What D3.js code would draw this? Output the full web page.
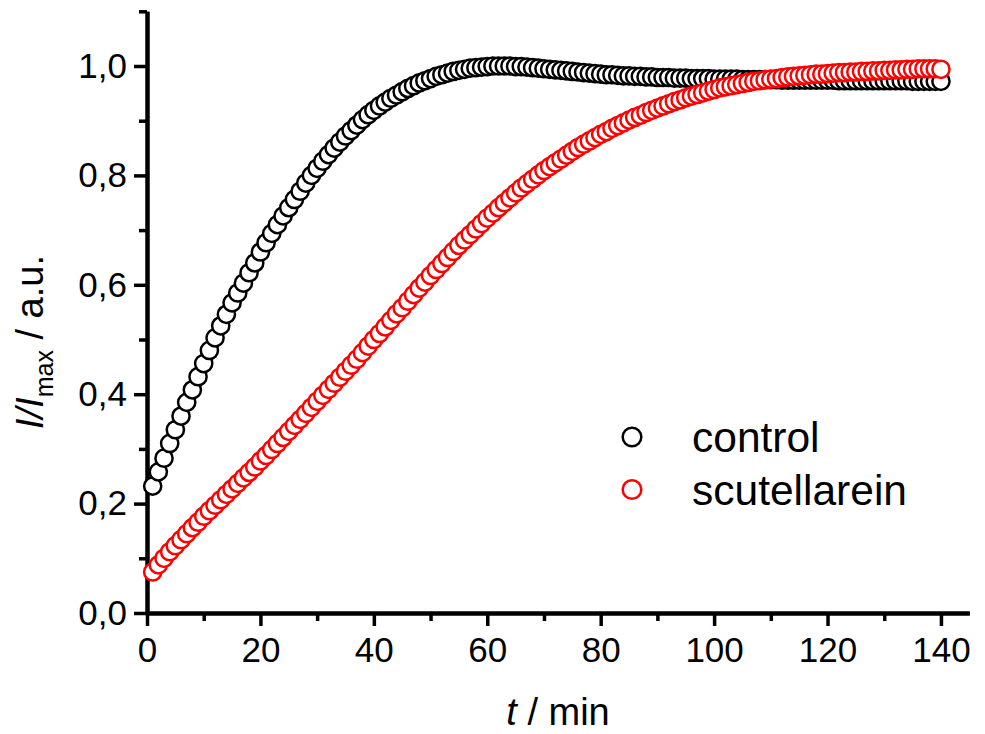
<!DOCTYPE html>
<html>
<head>
<meta charset="utf-8">
<script src="https://cdn.jsdelivr.net/npm/d3@7"></script>
<style>
  html, body { margin: 0; padding: 0; background: #fff; }
  svg { display: block; font-family: "Liberation Sans", Arial, sans-serif; }
</style>
</head>
<body>
<svg id="chart" width="985" height="734"></svg>
<script>
// ---- data ----
const times = [1,2,3,4,5,6,7,8,9,10,11,12,13,14,15,16,17,18,19,20,
  21,22,23,24,25,26,27,28,29,30,31,32,33,34,35,36,37,38,39,40,
  41,42,43,44,45,46,47,48,49,50,51,52,53,54,55,56,57,58,59,60,
  61,62,63,64,65,66,67,68,69,70,71,72,73,74,75,76,77,78,79,80,
  81,82,83,84,85,86,87,88,89,90,91,92,93,94,95,96,97,98,99,100,
  101,102,103,104,105,106,107,108,109,110,111,112,113,114,115,116,117,118,119,120,
  121,122,123,124,125,126,127,128,129,130,131,132,133,134,135,136,137,138,139,140];

const controlValues = [
  0.232,0.258,0.283,0.310,0.335,0.360,0.385,0.408,0.432,0.456,
  0.480,0.503,0.525,0.546,0.567,0.585,0.603,0.622,0.640,0.660,
  0.677,0.694,0.710,0.726,0.741,0.756,0.771,0.786,0.800,0.813,
  0.826,0.838,0.850,0.861,0.872,0.882,0.892,0.902,0.911,0.919,
  0.927,0.934,0.941,0.947,0.953,0.959,0.964,0.969,0.973,0.977,
  0.981,0.984,0.987,0.990,0.992,0.994,0.996,0.997,0.998,0.999,
  1.000,1.000,1.000,1.000,0.999,0.999,0.998,0.997,0.996,0.995,
  0.994,0.993,0.992,0.991,0.990,0.989,0.988,0.987,0.986,0.985,
  0.984,0.984,0.983,0.982,0.982,0.981,0.981,0.980,0.980,0.979,
  0.979,0.979,0.978,0.978,0.978,0.977,0.977,0.977,0.977,0.976,
  0.976,0.976,0.976,0.976,0.975,0.975,0.975,0.975,0.975,0.975,
  0.975,0.974,0.974,0.974,0.974,0.974,0.974,0.974,0.974,0.974,
  0.974,0.973,0.973,0.973,0.973,0.973,0.973,0.973,0.973,0.973,
  0.973,0.973,0.973,0.973,0.972,0.972,0.972,0.972,0.972,0.972];

const scutellareinValues = [
  0.075,0.088,0.100,0.112,0.123,0.134,0.145,0.156,0.166,0.177,
  0.187,0.197,0.207,0.217,0.227,0.237,0.247,0.257,0.267,0.278,
  0.288,0.299,0.310,0.321,0.332,0.343,0.354,0.365,0.376,0.387,
  0.398,0.409,0.420,0.431,0.442,0.453,0.464,0.476,0.488,0.500,
  0.511,0.523,0.535,0.547,0.558,0.570,0.582,0.594,0.605,0.617,
  0.628,0.639,0.650,0.661,0.672,0.682,0.692,0.702,0.712,0.722,
  0.731,0.741,0.750,0.759,0.768,0.777,0.785,0.793,0.801,0.809,
  0.816,0.823,0.830,0.837,0.844,0.851,0.857,0.863,0.869,0.875,
  0.880,0.886,0.891,0.896,0.901,0.906,0.910,0.915,0.919,0.923,
  0.927,0.931,0.935,0.938,0.942,0.945,0.948,0.951,0.954,0.957,
  0.960,0.962,0.964,0.966,0.968,0.970,0.972,0.973,0.975,0.976,
  0.977,0.979,0.980,0.981,0.982,0.983,0.984,0.985,0.985,0.986,
  0.987,0.988,0.988,0.989,0.989,0.990,0.990,0.991,0.991,0.992,
  0.992,0.993,0.993,0.994,0.994,0.995,0.995,0.995,0.995,0.994];

const seriesNames = ["control", "scutellarein"];
const seriesColors = ["#000000", "#ff0000"];
const xMajorTicks = [0,20,40,60,80,100,120,140];
const xMinorTicks = [10,30,50,70,90,110,130];
const yMajorTicks = [0,0.2,0.4,0.6,0.8,1.0];
const yMinorTicks = [0.1,0.3,0.5,0.7,0.9,1.1];

// ---- layout ----
const svg = d3.select("#chart");
const x = d3.scaleLinear().domain([0, 145]).range([147, 969.3]);
const y = d3.scaleLinear().domain([0, 1.1]).range([613, 11.3]);
const fmtY = d => d3.format(".1f")(d).replace(".", ",");

// axes
const axisW = 4;
function styleAxis(g) {
  g.select(".domain").attr("stroke", "#000").attr("stroke-width", axisW);
  g.selectAll(".tick line").attr("stroke", "#000").attr("stroke-width", 3.5);
  g.selectAll(".tick text").attr("fill", "#000");
}

// x minor
svg.append("g").attr("transform", "translate(0,613)")
  .call(d3.axisBottom(x).tickValues(xMinorTicks).tickSize(8).tickSizeOuter(0).tickFormat(""))
  .call(styleAxis);
// x major
svg.append("g").attr("transform", "translate(0,613)")
  .call(d3.axisBottom(x).tickValues(xMajorTicks).tickSize(13).tickSizeOuter(0).tickPadding(11))
  .call(styleAxis)
  .call(g => g.selectAll(".tick text").attr("font-size", 35).attr("font-family", "Liberation Sans, Arial, sans-serif"));

// y minor
svg.append("g").attr("transform", "translate(147,0)")
  .call(d3.axisLeft(y).tickValues(yMinorTicks).tickSize(8).tickSizeOuter(0).tickFormat(""))
  .call(styleAxis);
// y major
svg.append("g").attr("transform", "translate(147,0)")
  .call(d3.axisLeft(y).tickValues(yMajorTicks).tickSize(13).tickSizeOuter(0).tickPadding(7).tickFormat(fmtY))
  .call(styleAxis)
  .call(g => g.selectAll(".tick text").attr("font-size", 35).attr("font-family", "Liberation Sans, Arial, sans-serif"));

// data
const series = [controlValues, scutellareinValues];
series.forEach((vals, si) => {
  svg.append("g")
    .selectAll("circle")
    .data(vals.map((v, i) => ({ t: times[i], v })))
    .join("circle")
    .attr("cx", d => x(d.t))
    .attr("cy", d => y(d.v))
    .attr("r", 8.6)
    .attr("fill", "#fff")
    .attr("stroke", seriesColors[si])
    .attr("stroke-width", 2.5);
});

// legend
const legend = svg.append("g");
seriesNames.forEach((name, i) => {
  const cy = 437 + i * 52.5;
  legend.append("circle").attr("cx", 632).attr("cy", cy).attr("r", 9.3)
    .attr("fill", "#fff").attr("stroke", seriesColors[i]).attr("stroke-width", 2.5);
  legend.append("text").attr("x", 692).attr("y", cy + 15)
    .attr("font-size", 42.5).attr("fill", "#000").text(name);
});

// x title
const xt = svg.append("text").attr("x", 558).attr("y", 725)
  .attr("text-anchor", "middle").attr("font-size", 38).attr("fill", "#000");
xt.append("tspan").attr("font-style", "italic").text("t");
xt.append("tspan").text(" / min");

// y title
const yt = svg.append("text")
  .attr("transform", "translate(43,342) rotate(-90)")
  .attr("text-anchor", "middle").attr("font-size", 38).attr("fill", "#000");
yt.append("tspan").attr("font-style", "italic").text("I/I");
yt.append("tspan").attr("font-size", 25).attr("dy", 10).text("max");
yt.append("tspan").attr("dy", -10).text(" / a.u.");
</script>
</body>
</html>
